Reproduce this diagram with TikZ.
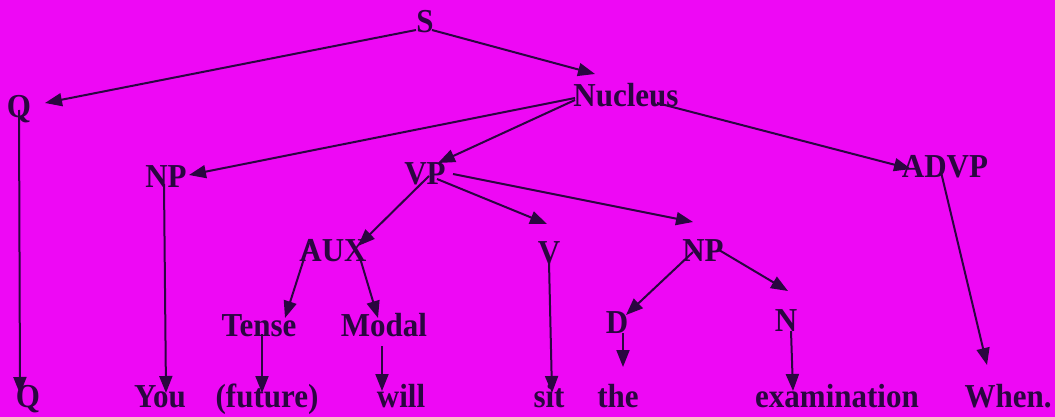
\documentclass[tikz,border=0pt]{standalone}
\usepackage{fontspec}
\setmainfont{Liberation Serif}
\usetikzlibrary{calc,arrows.meta}
\definecolor{bg}{RGB}{238,8,245}
\definecolor{ink}{RGB}{42,6,64}
\newcommand{\tall}[1]{\scalebox{1}[1.08]{#1}}
\begin{document}
\begin{tikzpicture}[x=1pt,y=-1pt,
  lbl/.style={inner sep=0pt,anchor=base,text=ink,font=\fontsize{31}{31}\selectfont\bfseries},
  arr/.style={draw=ink,line width=2pt,-{Triangle[length=17pt,width=13pt]}}]
% background
\fill[bg] (0,0) rectangle (1055,417);
\useasboundingbox (0,0) rectangle (1055,417);
% phrase labels
\node[lbl] (S) at (425,33) {\tall{S}};
\node[lbl] (Qt) at (19,118) {\tall{Q}};
\node[lbl] (Nuc) at (626,107) {\tall{Nucleus}};
\node[lbl] (NPl) at (166,187) {\tall{NP}};
\node[lbl] (VP) at (425,185) {\tall{VP}};
\node[lbl] (ADVP) at (945,178) {\tall{ADVP}};
\node[lbl] (AUX) at (333,261) {\tall{AUX}};
\node[lbl] (V) at (549,263) {\tall{V}};
\node[lbl] (NPr) at (703,261) {\tall{NP}};
\node[lbl] (Tense) at (259,336) {\tall{Tense}};
\node[lbl] (Modal) at (384,336) {\tall{Modal}};
\node[lbl] (D) at (617,333) {\tall{D}};
\node[lbl] (N) at (786,331) {\tall{N}};
% words
\node[lbl] (Qb) at (28,407) {\tall{Q}};
\node[lbl] (You) at (160,407) {\tall{You}};
\node[lbl] (fut) at (267,407) {\tall{(future)}};
\node[lbl] (will) at (401,407) {\tall{will}};
\node[lbl] (sit) at (549,407) {\tall{sit}};
\node[lbl] (the) at (618,407) {\tall{the}};
\node[lbl] (exam) at (837,407) {\tall{examination}};
\node[lbl] (When) at (1008,407) {\tall{When.}};
% branches
\draw[arr] ($(S.base)+(-9,-3)$) -- ($(Qt.base)+(26,-15)$);
\draw[arr] ($(S.base)+(7,-3)$) -- ($(Nuc.base)+(-31,-33)$);
\draw[arr] ($(Nuc.base)+(-51,-9)$) -- ($(NPl.base)+(23,-12)$);
\draw[arr] ($(Nuc.base)+(-51,-7)$) -- ($(VP.base)+(13,-22)$);
\draw[arr] ($(Nuc.base)+(31,-4)$) -- ($(ADVP.base)+(-34,-9)$);
\draw[arr] ($(VP.base)+(4,-9)$) -- ($(AUX.base)+(25,-15)$);
\draw[arr] ($(VP.base)+(12,-6)$) -- ($(V.base)+(-2,-39)$);
\draw[arr] ($(VP.base)+(28,-11)$) -- ($(NPr.base)+(-10,-39)$);
\draw[arr] ($(AUX.base)+(-24,-18)$) -- ($(Tense.base)+(26,-18)$);
\draw[arr] ($(AUX.base)+(27,-3)$) -- ($(Modal.base)+(-6,-18)$);
\draw[arr] ($(V.base)+(0,-1)$) -- ($(sit.base)+(3,-14)$);
\draw[arr] ($(NPr.base)+(-10,-9)$) -- ($(D.base)+(9,-18)$);
\draw[arr] ($(NPr.base)+(16,-11)$) -- ($(N.base)+(2,-40)$);
\draw[arr] ($(D.base)+(6,0)$) -- ($(the.base)+(5,-40)$);
\draw[arr] ($(N.base)+(5,0)$) -- ($(exam.base)+(-44,-16)$);
\draw[arr] ($(ADVP.base)+(-4,-6)$) -- ($(When.base)+(-21,-42)$);
\draw[arr] ($(Qt.base)+(0,-8)$) -- ($(Qb.base)+(-8,-13)$);
\draw[arr] ($(NPl.base)+(-2,-3)$) -- ($(You.base)+(6,-14)$);
\draw[arr] ($(Tense.base)+(3,-2)$) -- ($(fut.base)+(-5,-14)$);
\draw[arr] ($(Modal.base)+(-2,10)$) -- ($(will.base)+(-19,-16)$);
\end{tikzpicture}
\end{document}
